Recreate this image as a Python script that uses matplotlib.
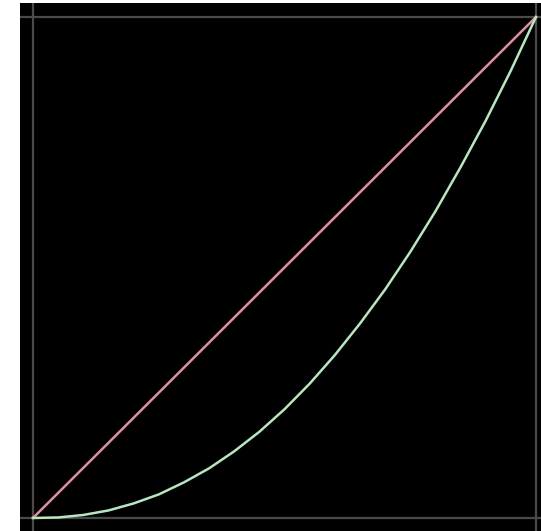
import numpy as np
import matplotlib
matplotlib.use("Agg")
from matplotlib import pyplot as plt

# cumulative share of population (x) and share of total (y)
population = [0.0, 0.05, 0.1, 0.15, 0.2, 0.25, 0.3, 0.35, 0.4, 0.45, 0.5,
              0.55, 0.6, 0.65, 0.7, 0.75, 0.8, 0.85, 0.9, 0.95, 1.0]
lorenz = [0.0, 0.001, 0.006, 0.015, 0.029, 0.047, 0.071, 0.099, 0.133, 0.172, 0.217,
          0.268, 0.325, 0.388, 0.456, 0.531, 0.612, 0.700, 0.793, 0.893, 1.0]
equality = [0.0, 1.0]

fig = plt.figure(figsize=(5.41, 5.31), dpi=100, facecolor="white")
ax = fig.add_axes([20 / 541, 0, 521 / 541, 528 / 531])
ax.set_facecolor("black")

# gray frame lines at 0 and 1
for v in (0, 1):
    ax.axvline(v, color="#4a4a4a", lw=1.6, zorder=1)
    ax.axhline(v, color="#4a4a4a", lw=1.6, zorder=1)

ax.plot(equality, equality, color="#e0909c", lw=1.8, zorder=3)
ax.plot(population, lorenz, color="#b8e6c0", lw=1.8, zorder=3)

ax.set_xlim(-0.0258, 1.010)
ax.set_ylim(-0.026, 1.028)
ax.set_xticks([])
ax.set_yticks([])
for s in ax.spines.values():
    s.set_visible(False)

fig.savefig("out.png", dpi=100, facecolor="white")
